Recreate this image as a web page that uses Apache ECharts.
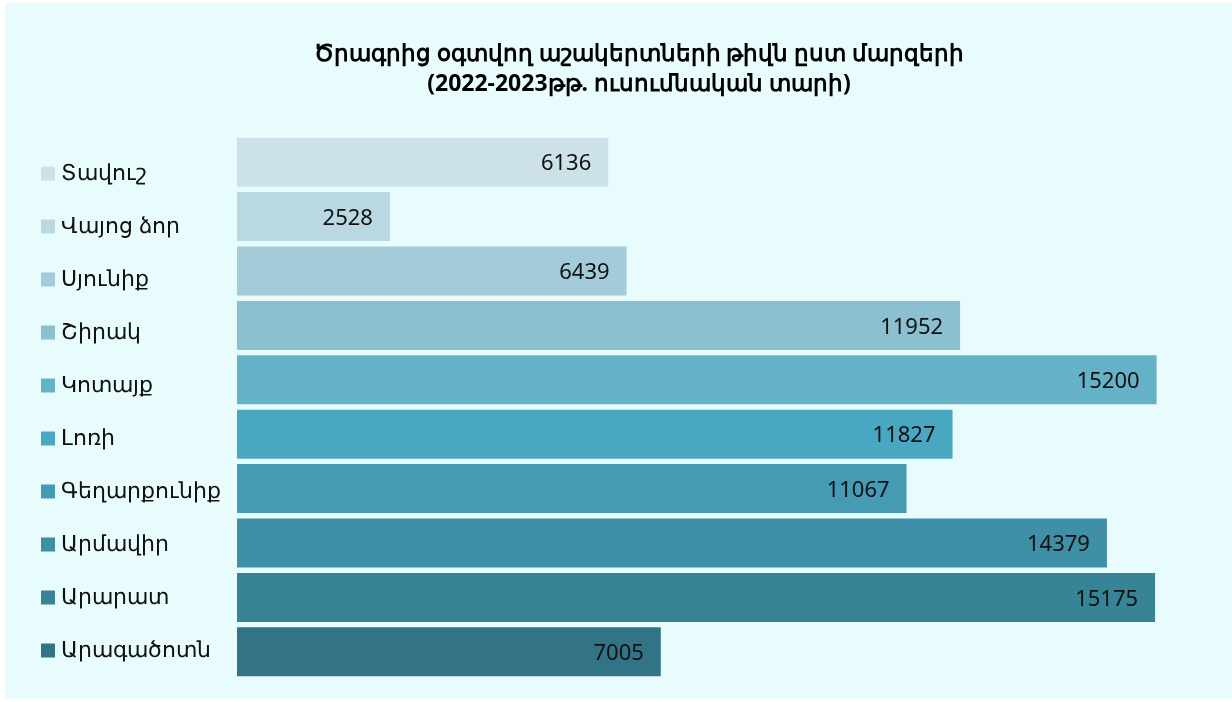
<!DOCTYPE html>
<html>
<head>
<meta charset="utf-8">
<script src="https://cdn.jsdelivr.net/npm/echarts@6/dist/echarts.min.js"></script>
<style>
  html, body { margin: 0; padding: 0; background: #ffffff; }
  #chart { position: absolute; left: 5px; top: 3px; width: 1227px; height: 696px; background: #e8fcfe; }
</style>
</head>
<body>
<div id="chart"></div>
<script>
// մարզեր
const regions = ['Տավուշ', 'Վայոց ձոր', 'Սյունիք', 'Շիրակ', 'Կոտայք', 'Լոռի', 'Գեղարքունիք', 'Արմավիր', 'Արարատ', 'Արագածոտն'];
const students = [6136, 2528, 6439, 11952, 15200, 11827, 11067, 14379, 15175, 7005];
const barColors = ['#cde1e8', '#bad8e2', '#a3cbda', '#8bc0d1', '#65b1c8', '#4aa7c1', '#459bb4', '#3f8fa6', '#378497', '#327486'];

const chart = echarts.init(document.getElementById('chart'));

// legend squares
let rich = { t: { fontSize: 22, color: '#111', padding: [0, 0, 0, 6], fontFamily: 'Noto Sans' } };
for (let i = 0; i < regions.length; i++) {
  rich['s' + i] = { width: 14, height: 14, backgroundColor: barColors[i] };
}

const option = {
  animation: false,
  title: {
    text: 'Ծրագրից օգտվող աշակերտների թիվն ըստ մարզերի\n(2022-2023թթ. ուսումնական տարի)',
    left: 629,
    top: 31,
    textAlign: 'center',
    textStyle: { fontSize: 23, fontWeight: 'bold', color: '#000', lineHeight: 30, fontFamily: 'Noto Sans' }
  },
  grid: [
    { left: 232, right: 27, top: 132, bottom: 20 },
    { left: 232, right: 27, top: 144, bottom: 22 }
  ],
  xAxis: [
    { type: 'value', min: 0, max: 16000, show: false, gridIndex: 0 },
    { type: 'value', min: 0, max: 16000, show: false, gridIndex: 1 }
  ],
  yAxis: [
    {
      type: 'category', data: regions, inverse: true, gridIndex: 0,
      axisLine: { show: false }, axisTick: { show: false }, axisLabel: { show: false }
    },
    {
      type: 'category', data: regions, inverse: true, gridIndex: 1,
      axisLine: { show: false }, axisTick: { show: false },
      axisLabel: {
        align: 'left',
        margin: 196,
        formatter: (v, i) => `{s${i}|}{t|${v}}`,
        rich: rich
      }
    }
  ],
  series: [
    {
      type: 'bar',
      xAxisIndex: 0,
      yAxisIndex: 0,
      data: students.map((v, i) => ({ value: v, itemStyle: { color: barColors[i] } })),
      barWidth: 49,
      label: {
        show: true,
        position: 'insideRight',
        distance: 17,
        offset: [0, 2],
        fontSize: 22,
        color: '#111',
        fontFamily: 'Noto Sans'
      }
    }
  ]
};
chart.setOption(option);
</script>
</body>
</html>
